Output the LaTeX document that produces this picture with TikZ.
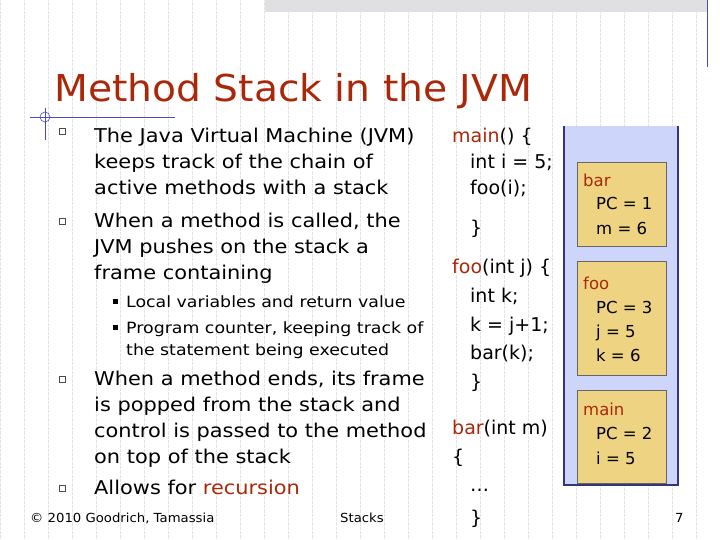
\documentclass[tikz,border=0pt]{standalone}
\usepackage{fontspec}
\setmainfont{DejaVu Sans}
\newfontfamily\wideA[FakeStretch=1.1]{DejaVu Sans}
\newfontfamily\wideB[FakeStretch=1.12]{DejaVu Sans}
\newfontfamily\wideC[FakeStretch=1.06]{DejaVu Sans}
\begin{document}
\begin{tikzpicture}[x=1pt,y=-1pt,
  tx/.style={anchor=base west,inner sep=0pt,font=\wideA\fontsize{19}{22}\selectfont},
  cd/.style={anchor=base west,inner sep=0pt,font=\fontsize{19}{22}\selectfont},
  sm/.style={anchor=base west,inner sep=0pt,font=\wideB\fontsize{15.5}{18}\selectfont},
  fr/.style={anchor=base west,inner sep=0pt,font=\fontsize{16.5}{19}\selectfont},
  ft/.style={anchor=base west,inner sep=0pt,font=\wideC\fontsize{12.5}{14}\selectfont},
  bul/.style={draw=black!70,fill=white,minimum size=6pt,inner sep=0pt,line width=0.6pt},
  sbul/.style={fill=black,minimum size=5pt,inner sep=0pt},
  frame/.style={draw=black!60,fill=frameY,line width=0.8pt}]
\definecolor{titleR}{RGB}{170,40,10}
\definecolor{frameY}{RGB}{238,212,130}
\definecolor{stackB}{RGB}{205,214,250}
\definecolor{stackE}{RGB}{50,55,120}
\definecolor{gridc}{RGB}{228,228,228}
\useasboundingbox (0,0) rectangle (720,540);
\fill[white] (0,0) rectangle (720,540);
\draw[gridc,densely dotted,line width=0.3pt] (0,0) grid[step=24] (720,540);
\fill[blue!6!black!12] (265,0) rectangle (707,12);
\draw[blue!40!gray,line width=0.8pt] (707,0) -- (707,67);
\draw[blue!40!gray,line width=0.8pt] (30,117) -- (175,117);
\draw[blue!40!gray,line width=0.8pt] (45,108) -- (45,140);
\draw[blue!40!gray,line width=0.6pt] (45,117) circle (5);
\node[anchor=base west,inner sep=0pt,text=titleR,font=\wideC\fontsize{37}{40}\selectfont] (title) at (54,102) {Method Stack in the JVM};
% bullets
\foreach \y in {137,227,385,494} \node[bul] at (62,\y-6) {};
\foreach \y in {307,333} \node[sbul] at (115,\y-6) {};
\node[tx] (l1) at (94,143) {The Java Virtual Machine (JVM)};
\node[tx] (l2) at (94,169) {keeps track of the chain of};
\node[tx] (l3) at (94,195) {active methods with a stack};
\node[tx] (l4) at (94,227) {When a method is called, the};
\node[tx] (l5) at (94,253) {JVM pushes on the stack a};
\node[tx] (l6) at (94,279) {frame containing};
\node[sm] (s1) at (126,307) {Local variables and return value};
\node[sm] (s2) at (126,333) {Program counter, keeping track of};
\node[sm] (s3) at (126,355) {the statement being executed};
\node[tx] (l7) at (94,385) {When a method ends, its frame};
\node[tx] (l8) at (94,411) {is popped from the stack and};
\node[tx] (l9) at (94,437) {control is passed to the method};
\node[tx] (l10) at (94,463) {on top of the stack};
\node[tx] (l11) at (94,494) {Allows for \textcolor{titleR}{recursion}};
% code
\node[cd] (c1) at (452,143) {\textcolor{titleR}{main}() \{};
\node[cd] (c2) at (470,169) {int i = 5;};
\node[cd] (c3) at (470,195) {foo(i);};
\node[cd] (c4) at (470,234) {\}};
\node[cd] (c5) at (452,273) {\textcolor{titleR}{foo}(int j) \{};
\node[cd] (c6) at (470,302) {int k;};
\node[cd] (c7) at (470,331) {k = j+1;};
\node[cd] (c8) at (470,359) {bar(k);};
\node[cd] (c9) at (470,388) {\}};
\node[cd] (c10) at (452,434) {\textcolor{titleR}{bar}(int m)};
\node[cd] (c11) at (452,463) {\{};
\node[cd] (c12) at (470,491) {\dots};
\node[cd] (c13) at (470,524) {\}};
% stack
\draw[stackE,fill=stackB,line width=2pt] (564,126) -- (564,485) -- (678,485) -- (678,126);
\draw[frame] (577,162) rectangle (666,246);
\draw[frame] (577,261) rectangle (666,375);
\draw[frame] (577,390) rectangle (666,483);
\node[fr,text=titleR] (b0) at (583,187) {bar};
\node[fr] (b1) at (596,210) {PC = 1};
\node[fr] (b2) at (596,235) {m = 6};
\node[fr,text=titleR] (f0) at (583,289) {foo};
\node[fr] (f1) at (596,313) {PC = 3};
\node[fr] (f2) at (596,337) {j = 5};
\node[fr] (f3) at (596,361) {k = 6};
\node[fr,text=titleR] (m0) at (583,415) {main};
\node[fr] (m1) at (596,439) {PC = 2};
\node[fr] (m2) at (596,464) {i = 5};
% footer
\node[ft] (cp) at (30,522) {© 2010 Goodrich, Tamassia};
\node[ft] (st) at (340,522) {Stacks};
\node[ft] (pg) at (675,522) {7};
\end{tikzpicture}
\end{document}
